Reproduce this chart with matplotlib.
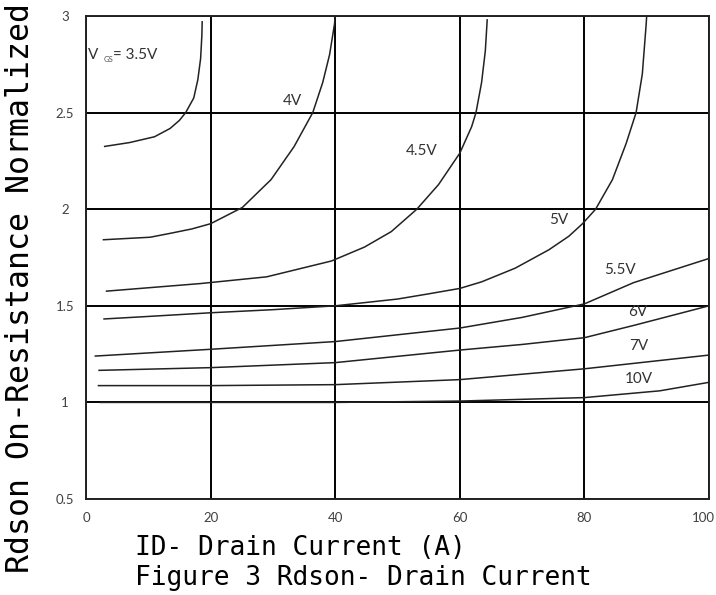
import matplotlib
matplotlib.use('Agg')
import matplotlib.pyplot as plt
import matplotlib.transforms as mtransforms

# curves (drain current A, normalized Rdson)
id_35 = [3.0, 7.0, 11.0, 13.5, 15.0, 16.0, 17.3, 17.95, 18.4, 18.6, 18.65]
r_35 = [2.325, 2.345, 2.375, 2.418, 2.46, 2.5, 2.576, 2.67, 2.78, 2.9, 2.97]

id_4 = [2.8, 10.3, 13.5, 17.0, 20.0, 25.1, 29.7, 33.4, 36.4, 38.0, 39.1, 39.9, 40.0]
r_4 = [1.842, 1.855, 1.875, 1.898, 1.925, 2.009, 2.153, 2.324, 2.5, 2.656, 2.80, 2.96, 3.0]

id_45 = [3.3, 18.3, 29.0, 39.4, 44.7, 49.0, 53.1, 56.6, 60.0, 61.9, 62.6, 63.5, 64.1, 64.4]
r_45 = [1.576, 1.615, 1.65, 1.732, 1.804, 1.884, 2.0, 2.128, 2.29, 2.427, 2.5, 2.656, 2.82, 2.98]

id_5 = [2.9, 10, 20, 30, 40, 50, 55, 60, 63.5, 68.9, 74.3, 77.5, 79.7, 81.8, 84.5, 86.7, 88.3, 89.3, 89.9, 90.0]
r_5 = [1.432, 1.445, 1.464, 1.48, 1.50, 1.535, 1.562, 1.59, 1.624, 1.695, 1.79, 1.86, 1.925, 2.0, 2.153, 2.34, 2.5, 2.70, 2.95, 3.0]

id_55 = [1.5, 20, 40, 60, 70, 80, 87.9, 100]
r_55 = [1.24, 1.275, 1.315, 1.385, 1.44, 1.51, 1.62, 1.745]

id_6 = [2.1, 20, 40, 60, 70, 80, 88.1, 100]
r_6 = [1.166, 1.18, 1.206, 1.271, 1.30, 1.335, 1.40, 1.5]

id_7 = [2.0, 20, 40, 60, 80, 100]
r_7 = [1.087, 1.087, 1.092, 1.118, 1.174, 1.245]

id_10 = [2.3, 20, 40, 60, 80, 92.1, 100]
r_10 = [1.0, 1.0, 1.0, 1.007, 1.025, 1.06, 1.104]

x_ticks = [0, 20, 40, 60, 80, 100]
y_ticks = [0.5, 1, 1.5, 2, 2.5, 3]
y_tick_labels = ['0.5', '1', '1.5', '2', '2.5', '3']

fig = plt.figure(figsize=(7.16, 5.95), dpi=100)
ax = fig.add_axes([0.1201, 0.1613, 0.8701, 0.8118])

for xs, ys in [(id_35, r_35), (id_4, r_4), (id_45, r_45), (id_5, r_5),
               (id_55, r_55), (id_6, r_6), (id_7, r_7), (id_10, r_10)]:
    ax.plot(xs, ys, color='#222222', lw=1.1, zorder=3, solid_joinstyle='round')

ax.set_xlim(0, 100)
ax.set_ylim(0.5, 3.0)
ax.set_xticks(x_ticks)
ax.set_yticks(y_ticks)
ax.set_yticklabels(y_tick_labels)
ax.grid(True, color='black', lw=1.4)
ax.set_axisbelow(True)
for s in ax.spines.values():
    s.set_color('#222222')
    s.set_linewidth(1.4)

ax.tick_params(axis='both', length=0, labelsize=9.5, labelcolor='#404040')
ax.tick_params(axis='x', pad=9)
ax.tick_params(axis='y', pad=15)
for t in ax.get_xticklabels() + ax.get_yticklabels():
    t.set_fontfamily('Lato')
for t in ax.get_yticklabels():
    t.set_horizontalalignment('center')
# keep the "100" inside the picture
last = ax.get_xticklabels()[-1]
last.set_transform(last.get_transform() +
                   mtransforms.ScaledTranslation(-6 / 100, 0, fig.dpi_scale_trans))

# curve labels
lab = dict(fontsize=11, color='#333333', family='Lato', va='center')
ax.text(0.35, 2.80, 'V', ha='left', **lab)
ax.text(2.9, 2.775, 'GS', ha='left', fontsize=5.5, color='#555555', family='Lato', va='center')
ax.text(4.4, 2.80, '= 3.5V', ha='left', **lab)
ax.text(33.1, 2.558, '4V', ha='center', **lab)
ax.text(53.8, 2.30, '4.5V', ha='center', **lab)
ax.text(75.9, 1.946, '5V', ha='center', **lab)
ax.text(85.7, 1.686, '5.5V', ha='center', **lab)
ax.text(88.5, 1.468, '6V', ha='center', **lab)
ax.text(88.7, 1.294, '7V', ha='center', **lab)
ax.text(88.7, 1.12, '10V', ha='center', **lab)

fig.text(21 / 716, 1 - 288 / 595, 'Rdson On-Resistance Normalized', rotation=90,
         ha='center', va='center', family='DejaVu Sans Mono', fontsize=22.7)
fig.text(135 / 716, 1 - 555 / 595, 'ID- Drain Current (A)', ha='left', va='baseline',
         family='DejaVu Sans Mono', fontsize=18.9)
fig.text(135 / 716, 1 - 585 / 595, 'Figure 3 Rdson- Drain Current', ha='left', va='baseline',
         family='DejaVu Sans Mono', fontsize=18.9)

fig.savefig('out.png', dpi=100)
